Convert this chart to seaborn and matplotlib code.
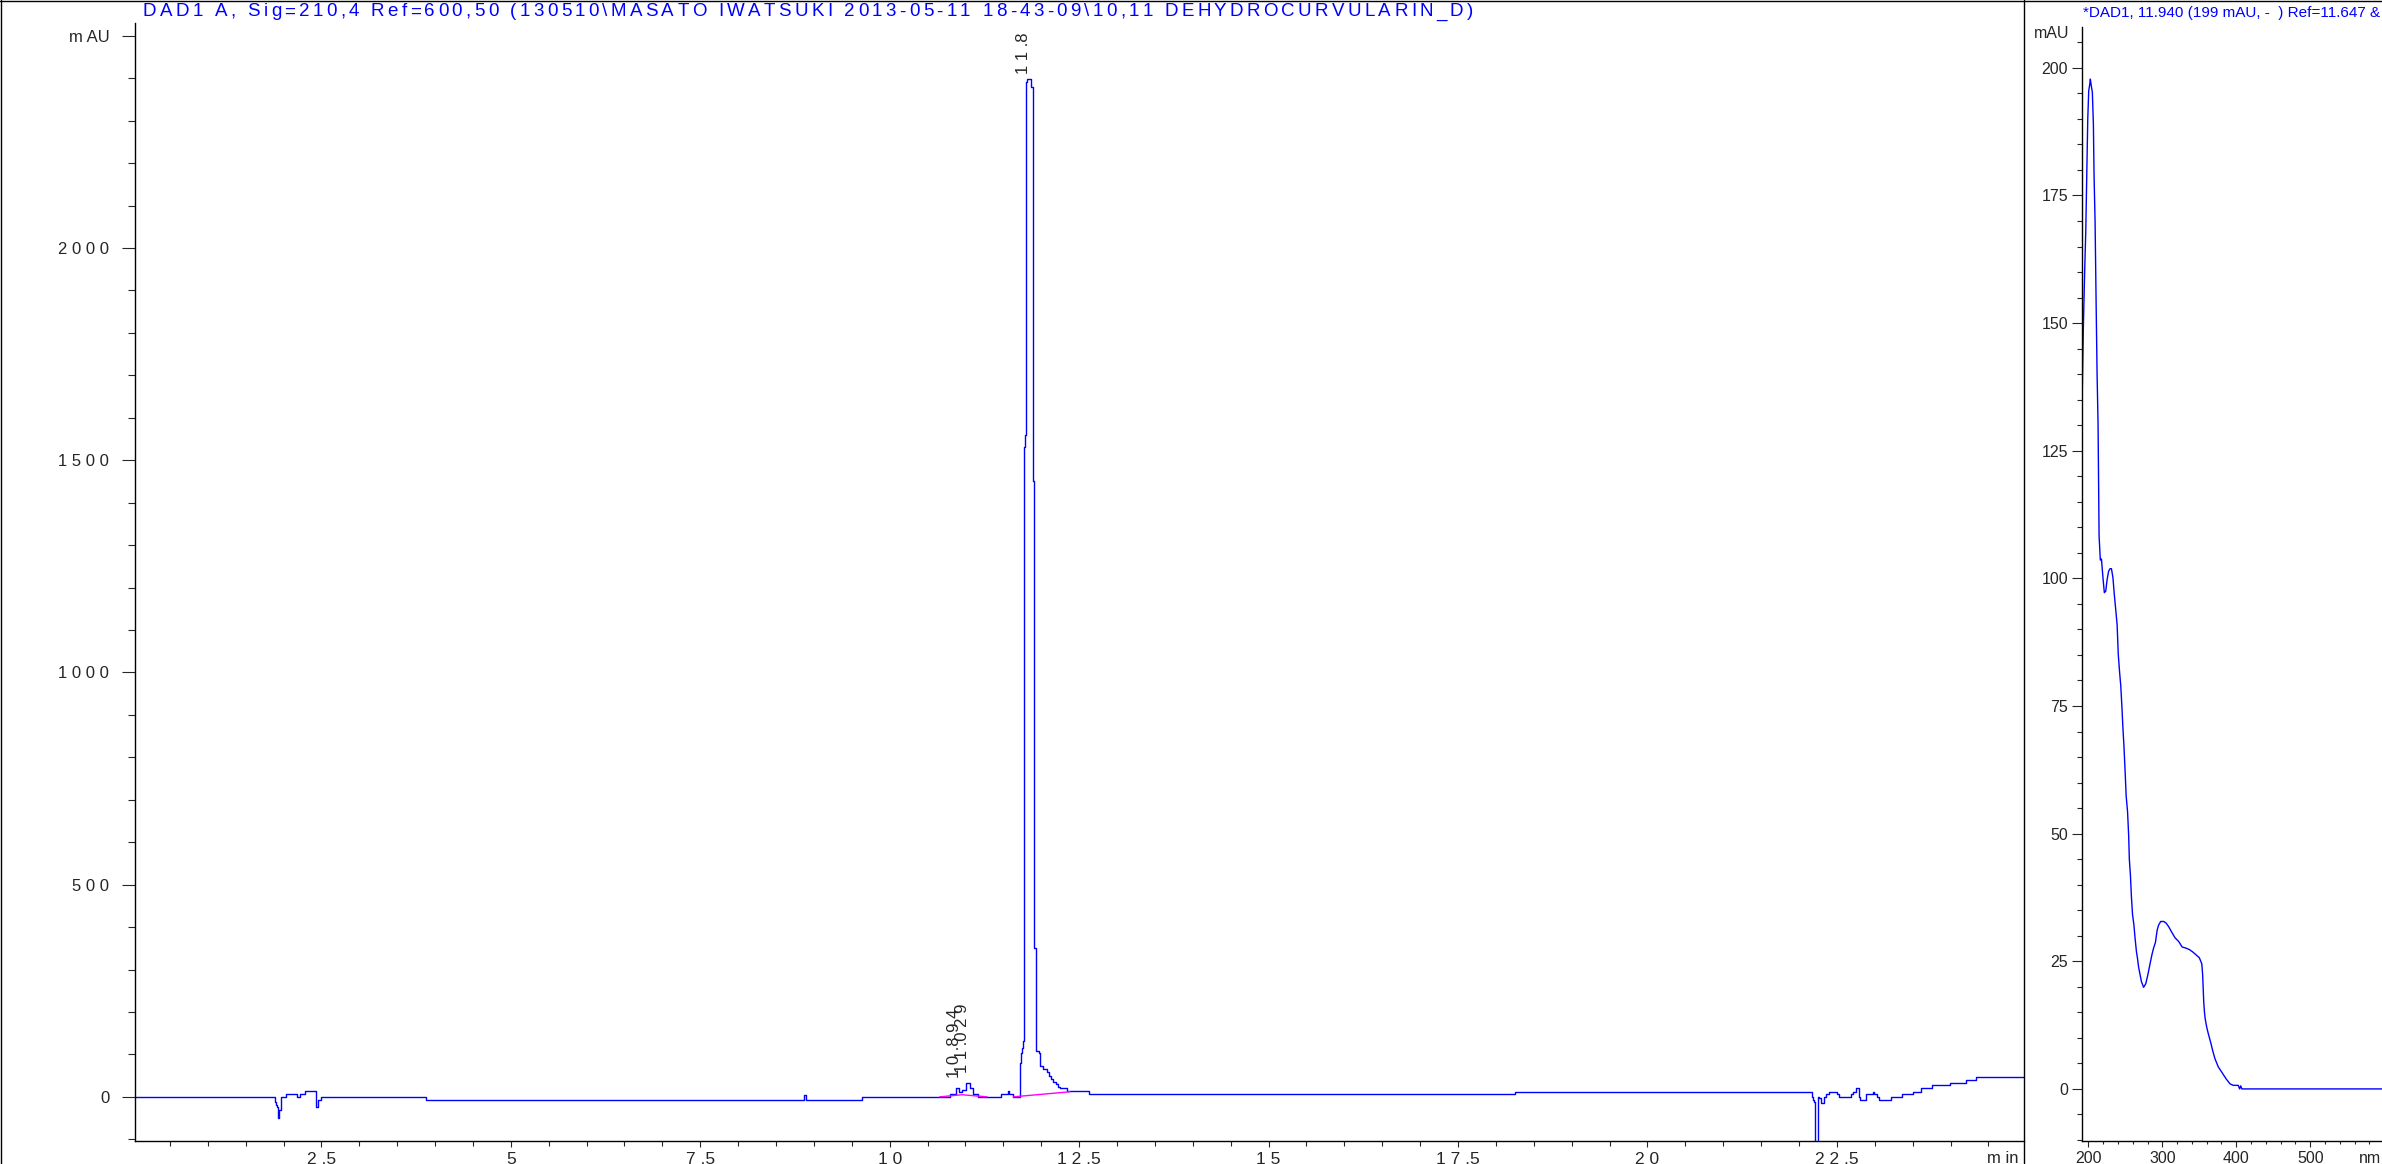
import numpy as np
import pandas as pd
import seaborn as sns
import matplotlib.pyplot as plt
from matplotlib.ticker import MultipleLocator, FixedLocator, FuncFormatter
from matplotlib.lines import Line2D

# chromatogram DAD1 A, Sig=210 (step trace)
rt_min = [0.04, 1.89, 1.905, 1.915, 1.928, 1.941, 1.963, 2.029, 2.183, 2.223, 2.289,
          2.434, 2.461, 2.50, 3.878, 8.87, 8.89, 9.63, 10.66, 10.80, 10.87, 10.92,
          10.955, 11.008, 11.065, 11.10, 11.16, 11.475, 11.555, 11.57, 11.63, 11.716,
          11.725, 11.734, 11.747, 11.765, 11.775, 11.787, 11.80, 11.815, 11.865,
          11.892, 11.91, 11.93, 11.967, 11.99, 12.025, 12.07, 12.10, 12.13, 12.157,
          12.19, 12.218, 12.25, 12.34, 12.63, 18.25, 22.175, 22.19, 22.205, 22.218,
          22.25, 22.27, 22.293, 22.33, 22.36, 22.395, 22.50, 22.535, 22.69, 22.71,
          22.747, 22.786, 22.81, 22.887, 22.98, 22.99, 23.03, 23.06, 23.21, 23.36,
          23.50, 23.61, 23.75, 23.99, 24.21, 24.34, 24.97]
signal_mau = [0, -12, -20, -25, -49, -32, 0, 7, 0, 7, 14,
              -23, -8, 0, -8, 4, -8, 0, 0, 6, 20, 11,
              17, 32, 20, 6, 0, 6, 14, 6, 0, 50,
              80, 103, 115, 132, 1530, 1560, 2390, 2397, 2380,
              1450, 350, 108, 103, 73, 66, 58, 48, 42, 36,
              31, 24, 20, 13, 6, 12, 0, -8, -12, -400,
              0, -3, -15, 0, 7, 12, 7, 0, 7, 12,
              20, 0, -7, 7, 12, 7, 0, -7, 0, 7,
              12, 20, 28, 33, 40, 47, 47]

# integration baselines (magenta)
base_rt = [[10.66, 10.955, 11.285], [11.63, 12.38]]
base_mau = [[0, 5, 0], [0, 12]]

peak_labels = ['10.894', '11.029', '11.8']

# UV spectrum at 11.940 min
wl_nm = [190.6, 191.1, 191.9, 193.2, 195.1, 196.5, 197.8, 199.2, 200.5, 201.9, 202.7,
         203.6, 205.4, 206.8, 207.7, 209.1, 210.4, 211.8, 213.1, 214.5, 216.2, 217.7,
         219.7, 221.6, 223.5, 225.4, 227.4, 229.3, 231.2, 233.2, 235.1, 237.0, 238.9,
         240.4, 242.3, 243.8, 245.3, 246.8, 248.1, 249.6, 251.1, 253.0, 254.5, 255.4,
         256.9, 258.2, 259.7, 261.6, 263.1, 265.0, 266.5, 268.0, 269.9, 271.8, 274.7,
         277.6, 280.5, 283.4, 285.8, 288.2, 290.7, 293.0, 295.0, 297.8, 301.8, 305.0,
         308.5, 312.3, 317.2, 322.0, 326.8, 331.6, 336.5, 341.4, 346.1, 350.0, 353.4,
         354.5, 356.0, 357.0, 358.0, 360.0, 362.2, 365.4, 368.1, 371.2, 375.7, 380.3,
         386.1, 391.5, 395.9, 402.7, 404.5, 406.0, 407.5, 597.0]
abs_mau = [126, 130, 137.7, 149, 160.6, 168, 178.6, 190, 195.5, 196.8, 197.8,
           196.8, 195.2, 189, 179, 169.8, 155, 140, 130.4, 108.3, 103.6, 103.8,
           100.2, 97.2, 97.5, 99.8, 101.4, 101.9, 101.9, 100.2, 96.8, 93.9, 90.9,
           85.2, 81.5, 79, 75, 70.5, 67.2, 62.5, 57.4, 54.3, 49.6, 45,
           41.8, 37.7, 34.2, 32.1, 29.6, 26.9, 25.5, 23.8, 22.4, 21, 19.9,
           20.6, 22.4, 24.5, 26.2, 27.6, 28.7, 31.1, 32.1, 32.8, 32.8, 32.5,
           31.8, 30.8, 29.6, 28.9, 27.8, 27.6, 27.3, 26.8, 26.2, 25.7, 24.5,
           22.4, 17, 15, 13.7, 12.1, 10.8, 9.1, 7.5, 5.9, 4.3, 3.3,
           2.0, 1.0, 0.7, 0.7, 0, 0.6, 0, 0]

title_left = 'DAD1 A, Sig=210,4 Ref=600,50 (130510\\MASATO IWATSUKI 2013-05-11 18-43-09\\10,11 DEHYDROCURVULARIN_D)'
title_right = '*DAD1, 11.940 (199 mAU, -  ) Ref=11.647 &'

sns.set_style('white')
plt.rcParams['font.family'] = ['Liberation Sans', 'DejaVu Sans']

W, H = 2382, 1164
fig = plt.figure(figsize=(W / 100, H / 100), dpi=100)
axL = fig.add_axes([135 / W, 23 / H, (2024 - 135) / W, (1141 - 23) / H])
axR = fig.add_axes([2081.7 / W, 23 / H, (W - 2081.7) / W, (1141 - 27) / H])


def spaced(s):
    return ' '.join(s).replace(' . ', ' .')


def tracked_text(x0, x1, base_y, s, size, **kw):
    # letter-spaced text, stretched between x0 and x1 (pixels)
    r = fig.canvas.get_renderer()
    space_w = size * 100 / 72 * 0.278
    widths = []
    for ch in s:
        if ch == ' ':
            widths.append(space_w)
        else:
            t = fig.text(0, 0, ch, fontsize=size, **kw)
            widths.append(t.get_window_extent(r).width)
            t.remove()
    track = (x1 - x0 - sum(widths)) / (len(s) - 1)
    x = x0
    for ch, w in zip(s, widths):
        if ch != ' ':
            fig.text(x / W, 1 - base_y / H, ch, fontsize=size, ha='left',
                     va='baseline', **kw)
        x += w + track


# chromatogram
sns.lineplot(x=rt_min, y=signal_mau, ax=axL, color='blue', linewidth=1.0,
             drawstyle='steps-post', estimator=None, sort=False)
for bx, by in zip(base_rt, base_mau):
    sns.lineplot(x=bx, y=by, ax=axL, color='#ff00ff', linewidth=1.0,
                 estimator=None, sort=False)

axL.set_xlim(0.04, 24.97)
axL.set_ylim(-104, 2530)
axL.xaxis.set_major_locator(FixedLocator([2.5, 5, 7.5, 10, 12.5, 15, 17.5, 20, 22.5]))
axL.xaxis.set_minor_locator(MultipleLocator(0.5))
axL.xaxis.set_major_formatter(FuncFormatter(lambda v, p: spaced('%g' % v)))
axL.yaxis.set_major_locator(FixedLocator([0, 500, 1000, 1500, 2000, 2500]))
axL.yaxis.set_minor_locator(MultipleLocator(100))
axL.yaxis.set_major_formatter(FuncFormatter(
    lambda v, p: 'm AU' if v >= 2500 else spaced('%d' % v)))
axL.tick_params(axis='y', which='major', direction='out', length=9.1, width=0.8,
                pad=9.4, labelsize=12, left=True)
axL.tick_params(axis='y', which='minor', direction='out', length=4.8, width=0.8, left=True)
axL.tick_params(axis='x', which='major', direction='out', length=4.5, width=0.8,
                pad=3.5, labelsize=12.5, bottom=True)
axL.tick_params(axis='x', which='minor', direction='out', length=3.6, width=0.8, bottom=True)
axL.text(0.989, -0.0085, 'm in', transform=axL.transAxes, ha='center', va='top', fontsize=12)

# peak labels, vertical
axL.text(10.86, 44, spaced(peak_labels[0]), rotation=90, ha='center', va='bottom', fontsize=12)
axL.text(10.965, 56, spaced(peak_labels[1]), rotation=90, ha='center', va='bottom', fontsize=12)
axL.text(11.765, 2410, spaced(peak_labels[2]), rotation=90, ha='center', va='bottom', fontsize=12)

# spectrum
sns.lineplot(x=wl_nm, y=abs_mau, ax=axR, color='blue', linewidth=1.0,
             estimator=None, sort=False)
axR.set_xlim(191, 597)
axR.set_ylim(-10.2, 208)
axR.xaxis.set_major_locator(FixedLocator([200, 300, 400, 500]))
axR.xaxis.set_minor_locator(MultipleLocator(20))
axR.yaxis.set_major_locator(MultipleLocator(25))
axR.yaxis.set_minor_locator(MultipleLocator(5))
axR.tick_params(axis='y', which='major', direction='out', length=6.9, width=0.8,
                pad=2.9, labelsize=11.5, left=True)
axR.tick_params(axis='y', which='minor', direction='out', length=3.3, width=0.8, left=True)
axR.tick_params(axis='x', which='major', direction='out', length=4.3, width=0.8,
                pad=3, labelsize=11.5, bottom=True)
axR.tick_params(axis='x', which='minor', direction='out', length=2.4, width=0.8, bottom=True)
axR.text(0.96, -0.009, 'nm', transform=axR.transAxes, ha='center', va='top', fontsize=11.5)
axR.text(-0.099, 0.9946, 'mAU', transform=axR.transAxes, ha='center', va='center', fontsize=11.5)

for ax in (axL, axR):
    ax.set_xlabel('')
    ax.set_ylabel('')
    for side in ('top', 'right'):
        ax.spines[side].set_visible(False)
    for side in ('left', 'bottom'):
        ax.spines[side].set_color('black')
        ax.spines[side].set_linewidth(1.0)
    ax.set_facecolor('white')

# frame lines
fig.add_artist(Line2D([2023.5 / W, 2023.5 / W], [0, 1], transform=fig.transFigure, color='black', lw=1.0))
fig.add_artist(Line2D([0, 1], [1 - 0.5 / H, 1 - 0.5 / H], transform=fig.transFigure, color='black', lw=1.0))
fig.add_artist(Line2D([0.5 / W, 0.5 / W], [0, 1], transform=fig.transFigure, color='black', lw=1.0))

tracked_text(143, 1473, 16.5, title_left, 13.5, color='blue')
fig.text(2083 / W, 1 - 17 / H, title_right, color='blue', fontsize=11, ha='left', va='baseline')

fig.savefig('out.png', dpi=100, facecolor='white')
